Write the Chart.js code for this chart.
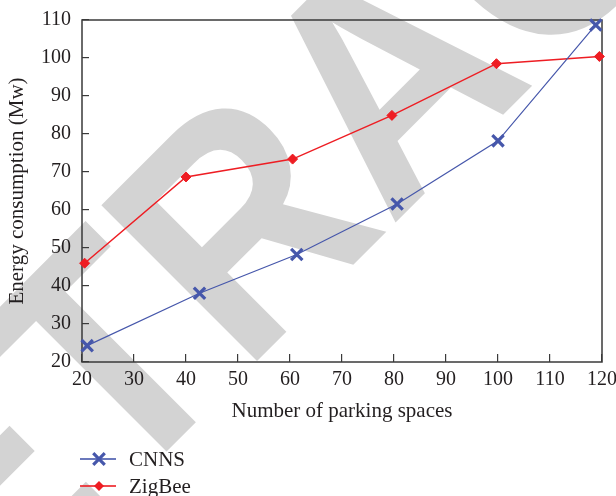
<!DOCTYPE html>
<html>
<head>
<meta charset="utf-8">
<script src="https://cdn.jsdelivr.net/npm/chart.js@4.4.0/dist/chart.umd.min.js"></script>
<style>
  html, body { margin: 0; padding: 0; background: #fff; }
</style>
</head>
<body>
<canvas id="energyChart" width="616" height="496"></canvas>
<script>
// values
const cnnsX = [21, 42.6, 61.3, 80.6, 100, 118.8];
const cnnsY = [24.3, 38.1, 48.3, 61.6, 78.2, 108.7];
const zigbeeX = [20.5, 40, 60.5, 79.6, 99.7, 119.5];
const zigbeeY = [46, 68.7, 73.4, 84.9, 98.5, 100.4];
const seriesNames = ['CNNS', 'ZigBee'];

const serif = "'Liberation Serif', 'DejaVu Serif', serif";
const textColor = '#231f20';
const axisColor = '#3a3a3a';
const blue = '#4657ab';
const red = '#ee1d23';

const toPoints = (xs, ys) => xs.map((x, i) => ({ x: x, y: ys[i] }));

// grey diagonal stamp behind the plot
const watermark = {
    id: 'watermark',
    beforeDraw(chart) {
        const ctx = chart.ctx;
        ctx.save();
        ctx.fillStyle = '#fff';
        ctx.fillRect(0, 0, chart.width, chart.height);
        ctx.translate(464, 154);
        ctx.rotate(-Math.PI / 4);
        ctx.scale(0.9, 1);
        ctx.font = "bold 320px 'Liberation Sans', Arial, sans-serif";
        ctx.fillStyle = '#d3d3d3';
        ctx.textAlign = 'center';
        ctx.textBaseline = 'alphabetic';
        ctx.fillText('RETRACTED', 0, 0);
        ctx.restore();
    }
};

// box round the plot area
const frame = {
    id: 'frame',
    beforeDatasetsDraw(chart) {
        const { ctx, chartArea: a } = chart;
        ctx.save();
        ctx.strokeStyle = axisColor;
        ctx.lineWidth = 1.5;
        ctx.strokeRect(a.left, a.top, a.right - a.left, a.bottom - a.top);
        ctx.restore();
    }
};

// legend stacked under the axis title, one series per row
const legendRows = {
    id: 'legendRows',
    afterDraw(chart) {
        const ctx = chart.ctx;
        chart.data.datasets.forEach((ds, i) => {
            const y = 459 + i * 27;
            ctx.save();
            ctx.globalAlpha = 0.8;
            ctx.strokeStyle = ds.borderColor;
            ctx.lineWidth = 2;
            ctx.beginPath();
            ctx.moveTo(80, y);
            ctx.lineTo(116, y);
            ctx.stroke();
            ctx.globalAlpha = 1;
            const mx = 99;
            if (ds.pointStyle === 'crossRot') {
                const r = ds.pointRadius * 0.72;
                ctx.lineWidth = ds.pointBorderWidth;
                ctx.beginPath();
                ctx.moveTo(mx - r, y - r); ctx.lineTo(mx + r, y + r);
                ctx.moveTo(mx - r, y + r); ctx.lineTo(mx + r, y - r);
                ctx.stroke();
            } else {
                const r = ds.pointRadius;
                ctx.fillStyle = ds.pointBackgroundColor;
                ctx.beginPath();
                ctx.moveTo(mx, y - r); ctx.lineTo(mx + r, y);
                ctx.lineTo(mx, y + r); ctx.lineTo(mx - r, y);
                ctx.closePath();
                ctx.fill();
            }
            ctx.fillStyle = textColor;
            ctx.font = '21px ' + serif;
            ctx.textAlign = 'left';
            ctx.textBaseline = 'middle';
            ctx.fillText(ds.label, 129, y + 1);
            ctx.restore();
        });
    }
};

const noOverhang = (scale) => {
    scale.paddingLeft = 0;
    scale.paddingRight = 0;
    scale.paddingTop = 0;
    scale.paddingBottom = 0;
};

const ctx = document.getElementById('energyChart').getContext('2d');

const energyChart = new Chart(ctx, {
    type: 'line',
    data: {
        datasets: [{
            label: seriesNames[0],
            data: toPoints(cnnsX, cnnsY),
            borderColor: blue,
            backgroundColor: blue,
            borderWidth: 1.2,
            pointStyle: 'crossRot',
            pointRadius: 8,
            pointBorderWidth: 3.2,
            pointBorderColor: blue,
            pointBackgroundColor: blue,
            tension: 0,
            clip: false
        }, {
            label: seriesNames[1],
            data: toPoints(zigbeeX, zigbeeY),
            borderColor: red,
            backgroundColor: red,
            borderWidth: 1.5,
            pointStyle: 'rectRot',
            pointRadius: 5,
            pointBorderWidth: 1,
            pointBorderColor: red,
            pointBackgroundColor: red,
            tension: 0,
            clip: false
        }]
    },
    options: {
        responsive: false,
        animation: false,
        layout: {
            padding: { left: 0, right: 14, top: 20, bottom: 72 }
        },
        scales: {
            x: {
                type: 'linear',
                min: 20,
                max: 120,
                ticks: {
                    stepSize: 10,
                    padding: 14,
                    autoSkip: false,
                    maxRotation: 0,
                    color: textColor,
                    font: { family: serif, size: 20 }
                },
                grid: {
                    drawOnChartArea: false,
                    drawTicks: true,
                    tickLength: -8,
                    color: axisColor,
                    lineWidth: 1.2
                },
                border: { display: false },
                title: {
                    display: true,
                    text: 'Number of parking spaces',
                    color: textColor,
                    font: { family: serif, size: 21 },
                    padding: 0
                },
                afterFit(scale) {
                    scale.height = 62;
                    noOverhang(scale);
                }
            },
            y: {
                min: 20,
                max: 110,
                ticks: {
                    stepSize: 10,
                    padding: 18,
                    color: textColor,
                    font: { family: serif, size: 20 }
                },
                grid: {
                    drawOnChartArea: false,
                    drawTicks: true,
                    tickLength: -7,
                    color: axisColor,
                    lineWidth: 1.2
                },
                border: { display: false },
                title: {
                    display: true,
                    text: 'Energy consumption (Mw)',
                    color: textColor,
                    font: { family: serif, size: 21 },
                    padding: { top: 5, bottom: 0 }
                },
                afterFit(scale) {
                    scale.width = 82;
                    noOverhang(scale);
                }
            }
        },
        plugins: {
            legend: { display: false },
            tooltip: { enabled: false }
        }
    },
    plugins: [watermark, frame, legendRows]
});
</script>
</body>
</html>
